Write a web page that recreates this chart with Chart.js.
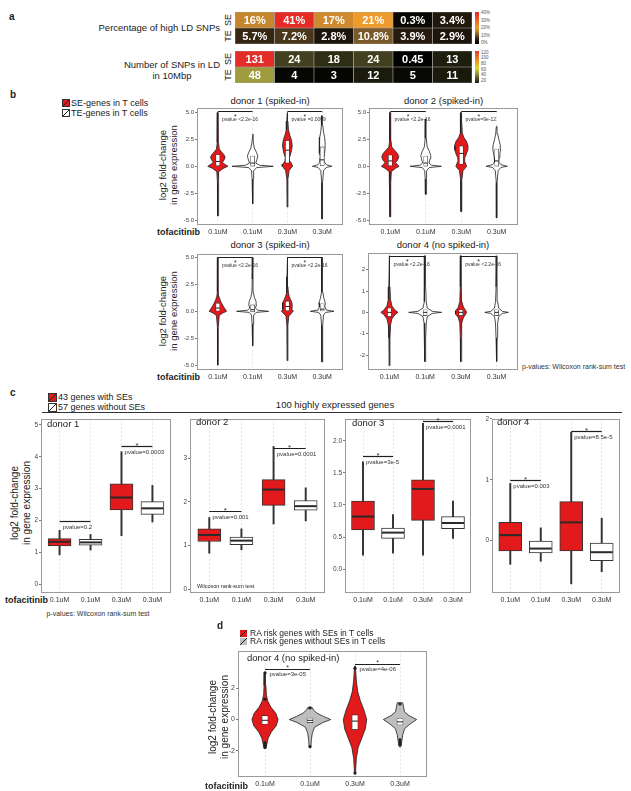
<!DOCTYPE html>
<html>
<head>
<meta charset="utf-8">
<title>Tofacitinib response of SE genes</title>
<script src="https://cdn.jsdelivr.net/npm/chart.js@4.4.1/dist/chart.umd.min.js"></script>
<style>
  html, body { margin: 0; padding: 0; background: #fff; }
  body { position: relative; width: 631px; height: 791px; overflow: hidden;
         font-family: 'Liberation Sans', Arial, sans-serif; color: #222; }
  .t { position: absolute; white-space: pre; line-height: 1.15; }
  canvas { position: absolute; }
</style>
</head>
<body>
<script>
const FONT = "'Liberation Sans', Arial, sans-serif";
const RED = '#e31a1c';
const GREY = '#bebebe';
const INK = '#1e1e1e';

// ---- panel a : heatmaps ----
const diseases = ['IBD', 'RA', 'T1D', 'MS', 'T2D', 'Cancer'];
const pctSE = [16, 41, 17, 21, 0.3, 3.4];
const pctTE = [5.7, 7.2, 2.8, 10.8, 3.9, 2.9];
const snpSE = [131, 24, 18, 24, 0.45, 13];
const snpTE = [48, 4, 3, 12, 5, 11];
const pctTicks = ['40%', '30%', '20%', '10%', '0%'];
const snpTicks = ['120', '100', '80', '60', '40', '20'];

// ---- shared x categories ----
const doses = ['0.1uM', '0.1uM', '0.3uM', '0.3uM'];

// ---- panel b : violins, [value, half width] from bottom to top ----
const bTicks = [-5, -2.5, 0, 2.5, 5];
const b4Ticks = [-2, -1, 0, 1, 2];

const violinD1 = [
  [[-4.6,.01],[-1.5,.012],[-0.5,.03],[-0.2,.15],[0,.29],[0.15,.22],[0.35,.13],[0.6,.18],[0.85,.21],[1.1,.17],[1.35,.1],[1.6,.04],[2.2,.02],[3.2,.015],[5,.01]],
  [[-3.5,.01],[-1.2,.015],[-0.4,.03],[-0.12,.12],[0,.59],[0.1,.2],[0.3,.09],[0.6,.12],[0.95,.15],[1.3,.11],[1.7,.05],[2.2,.02],[3,.01]],
  [[-3.8,.01],[-1.2,.015],[-0.4,.05],[-0.1,.12],[0,.15],[0.2,.13],[0.5,.07],[0.8,.06],[1.1,.09],[1.5,.12],[1.9,.14],[2.4,.12],[2.9,.07],[3.4,.03],[4.2,.015],[5,.01]],
  [[-4.9,.01],[-1.5,.012],[-0.4,.04],[-0.1,.12],[0,.28],[0.15,.12],[0.4,.06],[0.8,.05],[1.2,.07],[1.7,.085],[2.2,.085],[2.7,.07],[3.2,.04],[3.8,.02],[4.7,.01]]
];
const violinD2 = [
  [[-4.7,.01],[-1.5,.012],[-0.5,.03],[-0.2,.14],[0,.25],[0.15,.2],[0.35,.15],[0.6,.21],[0.9,.24],[1.2,.2],[1.5,.12],[1.8,.04],[2.4,.02],[3.5,.015],[5,.01]],
  [[-2.6,.01],[-1.2,.015],[-0.4,.03],[-0.12,.1],[0,.44],[0.1,.16],[0.3,.09],[0.7,.12],[1.0,.14],[1.4,.1],[1.8,.04],[2.6,.015],[4.4,.01]],
  [[-4.2,.01],[-1.3,.015],[-0.4,.05],[-0.1,.13],[0,.15],[0.2,.13],[0.5,.09],[0.8,.1],[1.1,.14],[1.5,.18],[1.9,.19],[2.3,.15],[2.7,.07],[3.1,.03],[4,.015],[5,.01]],
  [[-4.8,.01],[-1.5,.012],[-0.4,.04],[-0.1,.12],[0,.3],[0.15,.12],[0.4,.06],[0.8,.07],[1.2,.09],[1.6,.11],[2.0,.1],[2.5,.06],[3.0,.03],[3.7,.01]]
];
const violinD3 = [
  [[-5,.01],[-1.5,.012],[-0.4,.04],[-0.15,.14],[0,.25],[0.2,.21],[0.5,.15],[0.8,.1],[1.1,.06],[1.4,.03],[1.8,.015],[3,.012],[5,.01]],
  [[-3.2,.01],[-1.2,.015],[-0.35,.03],[-0.1,.1],[0,.46],[0.1,.15],[0.3,.08],[0.6,.11],[0.9,.1],[1.3,.05],[1.8,.02],[3,.012],[5,.01]],
  [[-4.6,.01],[-1.3,.015],[-0.45,.04],[-0.15,.12],[0,.17],[0.2,.13],[0.5,.14],[0.8,.13],[1.1,.09],[1.4,.05],[1.7,.03],[2.3,.015],[3.2,.012],[5,.01]],
  [[-4.7,.01],[-1.3,.015],[-0.35,.04],[-0.1,.1],[0,.34],[0.12,.12],[0.4,.08],[0.8,.09],[1.2,.05],[1.8,.02],[3,.012],[5,.01]]
];
const violinD4 = [
  [[-2.5,.01],[-1.2,.015],[-0.6,.03],[-0.3,.07],[-0.1,.16],[0,.24],[0.1,.16],[0.3,.07],[0.6,.03],[1.2,.015],[2.65,.01]],
  [[-2.3,.01],[-1.2,.015],[-0.5,.03],[-0.2,.06],[-0.05,.2],[0,.46],[0.05,.2],[0.2,.06],[0.5,.03],[1.2,.015],[2.65,.01]],
  [[-2.3,.01],[-1.2,.015],[-0.5,.03],[-0.25,.07],[-0.08,.14],[0,.16],[0.08,.14],[0.25,.07],[0.5,.03],[1.2,.015],[2.65,.01]],
  [[-2.3,.01],[-1.2,.015],[-0.5,.03],[-0.2,.06],[-0.05,.16],[0,.33],[0.05,.16],[0.2,.06],[0.5,.03],[1.2,.015],[2.65,.01]]
];
// inner boxes: q1, median, q3
const boxD1 = [[0.05,0.45,1.1],[0.02,0.3,0.95],[0.3,1.5,2.4],[0.05,0.6,1.8]];
const boxD2 = [[0.05,0.5,1.05],[0.02,0.3,0.95],[0.2,1.2,1.9],[0.02,0.5,1.6]];
const boxD3 = [[0,0.3,0.75],[-0.05,0.15,0.6],[0.05,0.45,0.95],[0,0.2,0.7]];
const boxD4 = [[-0.2,0,0.2],[-0.15,0,0.12],[-0.15,0,0.12],[-0.15,0,0.12]];
// brackets: from, to, height, label
const bracketsD1 = [[1,2,5.1,'pvalue <2.2e-16'],[3,4,5.1,'pvalue =0.0009']];
const bracketsD2 = [[1,2,5.1,'pvalue <2.2e-16'],[3,4,5.1,'pvalue=9e-12']];
const bracketsD3 = [[1,2,5.1,'pvalue <2.2e-16'],[3,4,5.1,'pvalue <2.2e-16']];
const bracketsD4 = [[1,2,2.65,'pvalue <2.2e-16'],[3,4,2.65,'pvalue <2.2e-16']];

// ---- panel c : boxplots, [min, q1, median, q3, max] ----
const statsC1 = [[0.92,1.2,1.33,1.43,1.69],[1.07,1.22,1.31,1.41,1.56],[1.52,2.33,2.72,3.15,4.16],[1.95,2.19,2.38,2.59,3.1]];
const statsC2 = [[0.82,1.09,1.24,1.38,1.64],[0.9,1.02,1.11,1.19,1.38],[1.49,1.92,2.28,2.51,3.27],[1.56,1.81,1.9,2.03,2.32]];
const statsC3 = [[0.22,0.61,0.82,1.06,1.67],[0.25,0.48,0.57,0.64,0.85],[0.22,0.76,1.25,1.39,2.27],[0.48,0.63,0.72,0.82,1.06]];
const statsC4 = [[-0.39,-0.17,0.09,0.3,0.94],[-0.34,-0.2,-0.13,0,0.21],[-0.71,-0.17,0.3,0.64,1.78],[-0.51,-0.33,-0.19,-0.04,0.37]];
const ticksC1 = [0, 1, 2, 3, 4, 5];
const ticksC2 = [0, 1, 2, 3];
const ticksC3 = [0, 0.5, 1, 1.5, 2];
const ticksC4 = [0, 1, 2];
const bracketsC1 = [[1,2,1.97,'pvalue=0.2',false],[3,4,4.35,'pvalue=0.0003']];
const bracketsC2 = [[1,2,1.79,'pvalue=0.001'],[3,4,3.24,'pvalue=0.0001']];
const bracketsC3 = [[1,2,1.77,'pvalue=3e-5'],[3,4,2.3,'pvalue=0.0001']];
const bracketsC4 = [[1,2,0.99,'pvalue=0.003'],[3,4,1.8,'pvalue=8.5e-5']];

// ---- panel d : RA risk genes ----
const violinRA = [
  [[-1.85,.02],[-1.6,.04],[-1.2,.07],[-0.8,.14],[-0.4,.25],[0,.29],[0.4,.24],[0.8,.13],[1.2,.06],[1.6,.03],[2.2,.02],[2.96,.01]],
  [[-1.75,.02],[-1.3,.03],[-0.9,.05],[-0.5,.1],[-0.2,.28],[0,.46],[0.2,.3],[0.4,.16],[0.6,.08],[0.77,.05]],
  [[-3.5,.01],[-2.5,.03],[-1.8,.07],[-1.2,.15],[-0.6,.23],[0,.26],[0.6,.2],[1.2,.12],[1.8,.06],[2.5,.03],[3.44,.01]],
  [[-1.75,.02],[-1.4,.04],[-1.0,.06],[-0.6,.1],[-0.3,.22],[0,.37],[0.25,.2],[0.5,.1],[0.8,.08],[1.08,.06]]
];
const boxRA = [[-0.3,-0.05,0.25],[-0.2,-0.05,0.1],[-0.65,-0.1,0.3],[-0.35,-0.15,0.05]];
const outliersRA = [[3.0,1.3,-1.5,-1.65,-1.8],[0.75,-1.75],[3.3,-3.45],[1.0,-1.3,-1.45,-1.6]];
const ticksRA = [-2, 0, 2];
const bracketsRA = [[1,2,3.23,'pvalue=3e-05'],[3,4,3.58,'pvalue=4e-06']];

// colour scales of the heatmaps
const pctStops = [[0,[8,6,4]],[5,[45,32,16]],[11,[125,92,44]],[16,[198,134,46]],[21,[236,155,44]],[41,[230,42,36]]];
const snpStops = [[0,[0,0,0]],[5,[8,8,4]],[13,[30,30,14]],[24,[66,64,30]],[48,[158,156,62]],[65,[222,214,48]],[90,[240,150,40]],[131,[228,44,40]]];

Chart.defaults.font.family = FONT;
Chart.defaults.color = '#333';

function colorAt(stops, v) {
  let i = 1;
  while (i < stops.length - 1 && v > stops[i][0]) i++;
  const [v0, c0] = stops[i - 1], [v1, c1] = stops[i];
  const t = Math.max(0, Math.min(1, (v - v0) / (v1 - v0)));
  return 'rgb(' + c0.map((c, k) => Math.round(c + (c1[k] - c) * t)).join(',') + ')';
}

function gradientCss(stops, lo, hi) {
  const parts = [];
  for (let k = 0; k <= 20; k++) {
    parts.push(colorAt(stops, lo + (hi - lo) * k / 20) + ' ' + (k * 5) + '%');
  }
  return 'linear-gradient(to top,' + parts.join(',') + ')';
}

// text helpers: y is the vertical centre
function txt(s, x, y, size, align, extra) {
  const d = document.createElement('div');
  d.className = 't';
  d.textContent = s;
  const tx = align === 'c' ? '-50%' : align === 'r' ? '-100%' : '0';
  d.style.left = x + 'px';
  d.style.top = y + 'px';
  d.style.fontSize = size + 'px';
  d.style.transform = 'translate(' + tx + ',-50%)';
  Object.assign(d.style, extra || {});
  document.body.appendChild(d);
  return d;
}
function rot(s, x, y, size) {
  const d = txt(s, x, y, size, 'c', {textAlign: 'center'});
  d.style.transform = 'translate(-50%,-50%) rotate(-90deg)';
  return d;
}
function icon(x, y, color, size, border) {
  const d = document.createElement('div');
  d.style.cssText = 'position:absolute;box-sizing:border-box;left:' + x + 'px;top:' + y + 'px;width:' + size + 'px;height:' + size + 'px;' +
    'background:linear-gradient(to bottom right,' + color + ' 43%,#222 43%,#222 57%,' + color + ' 57%);' +
    (border ? 'border:1px solid #333;' : '');
  document.body.appendChild(d);
}
function block(x, y, w, h, bg) {
  const d = document.createElement('div');
  d.style.cssText = 'position:absolute;left:' + x + 'px;top:' + y + 'px;width:' + w + 'px;height:' + h + 'px;background:' + bg;
  document.body.appendChild(d);
}

const PAD = 3;
function plotCanvas(box, axisW, axisH) {
  const c = document.createElement('canvas');
  const w = box.w + axisW + PAD, h = box.h + axisH + PAD;
  c.width = w; c.height = h;
  c.style.left = (box.x - axisW) + 'px';
  c.style.top = (box.y - PAD) + 'px';
  c.style.width = w + 'px'; c.style.height = h + 'px';
  document.body.appendChild(c);
  return c;
}

const frame = {
  id: 'frame',
  afterDatasetsDraw(chart) {
    const {ctx, chartArea: a} = chart;
    ctx.save();
    ctx.strokeStyle = '#9a9a9a';
    ctx.lineWidth = 1;
    ctx.strokeRect(Math.round(a.left) + 0.5, Math.round(a.top) + 0.5, Math.round(a.width) - 1, Math.round(a.height) - 1);
    ctx.restore();
  }
};

const violinFill = {
  id: 'violinFill',
  beforeDatasetDraw(chart, args) {
    const ds = chart.data.datasets[args.index];
    if (!ds.fillColor) return;
    const {ctx, chartArea: a} = chart;
    const pts = args.meta.data;
    ctx.save();
    ctx.beginPath();
    ctx.rect(a.left, a.top, a.width, a.height);
    ctx.clip();
    ctx.beginPath();
    pts.forEach((p, i) => i ? ctx.lineTo(p.x, p.y) : ctx.moveTo(p.x, p.y));
    ctx.closePath();
    ctx.fillStyle = ds.fillColor;
    ctx.fill();
    ctx.restore();
  }
};

function bracketPlugin(items, st) {
  return {
    id: 'brackets',
    afterDatasetsDraw(chart) {
      const {ctx, scales: {x, y}} = chart;
      ctx.save();
      ctx.strokeStyle = INK;
      ctx.fillStyle = '#333';
      ctx.lineWidth = st.lw;
      items.forEach(([from, to, val, label, star]) => {
        const x1 = x.getPixelForValue(from), x2 = x.getPixelForValue(to);
        const py = Math.round(y.getPixelForValue(val)) + 0.5;
        ctx.beginPath();
        ctx.moveTo(x1, py);
        ctx.lineTo(x2, py);
        ctx.stroke();
        ctx.textAlign = 'left';
        ctx.textBaseline = 'middle';
        ctx.font = st.size + 'px ' + FONT;
        ctx.fillText(label, x.getPixelForValue(from + st.dx), py + st.textDy);
        if (star !== false) {
          ctx.textAlign = 'center';
          ctx.font = st.starSize + 'px ' + FONT;
          ctx.fillText('*', (x1 + x2) / 2, py + st.starDy);
        }
      });
      ctx.restore();
    }
  };
}

function panelOptions(yMin, yMax, yTicks, digits, axisW, axisH, yFont) {
  return {
    responsive: false, animation: false, events: [],
    layout: {padding: {top: PAD, right: PAD, left: 0, bottom: 0}, autoPadding: false},
    plugins: {legend: {display: false}, tooltip: {enabled: false}},
    scales: {
      x: {
        type: 'linear', min: 0.4, max: 4.6, offset: false,
        afterBuildTicks: s => { s.ticks = doses.map((d, i) => ({value: i + 1})); },
        afterFit: s => { s.height = axisH; },
        ticks: {callback: v => doses[v - 1], autoSkip: false, maxRotation: 0, font: {size: 7}, color: '#333', padding: 3},
        grid: {color: '#dcdcdc', lineWidth: 0.7, drawTicks: false, offset: false},
        border: {display: false, dash: [2, 2]}
      },
      y: {
        type: 'linear', min: yMin, max: yMax,
        afterBuildTicks: s => { s.ticks = yTicks.map(v => ({value: v})); },
        afterFit: s => { s.width = axisW; },
        ticks: {callback: v => v.toFixed(digits), font: {size: yFont}, color: '#444', padding: 1},
        grid: {color: 'rgba(0,0,0,0)', tickColor: '#555', tickLength: 2, lineWidth: 0.8},
        border: {display: false}
      }
    }
  };
}

function outline(pos, prof) {
  const right = prof.map(([y, w]) => ({x: pos + w, y}));
  const left = prof.slice().reverse().map(([y, w]) => ({x: pos - w, y}));
  return right.concat(left, [right[0]]);
}

function violinPanel(box, yMin, yMax, yTicks, digits, profiles, boxes, fills, brackets, st) {
  const cv = plotCanvas(box, st.axisW, 12);
  const datasets = profiles.map((p, i) => ({
    type: 'scatter', showLine: true, data: outline(i + 1, p), fillColor: fills[i],
    borderColor: INK, borderWidth: 0.8, pointRadius: 0, tension: 0, order: 3
  }));
  datasets.push({
    type: 'bar', data: boxes.map((b, i) => ({x: i + 1, y: [b[0], b[2]]})),
    backgroundColor: '#fff', borderColor: INK, borderWidth: 0.6, borderSkipped: false,
    barThickness: st.innerW, grouped: false, order: 2
  });
  datasets.push({
    type: 'scatter', data: boxes.map((b, i) => ({x: i + 1, y: b[1]})),
    pointStyle: 'line', pointRadius: st.innerW / 2, pointBorderColor: INK, pointBorderWidth: 1, order: 1
  });
  if (st.outliers) {
    datasets.push({
      type: 'scatter', data: st.outliers.flatMap((arr, i) => arr.map(y => ({x: i + 1, y}))),
      pointRadius: 1.6, pointBackgroundColor: INK, pointBorderWidth: 0, order: 0
    });
  }
  new Chart(cv, {
    type: 'scatter',
    data: {datasets},
    options: panelOptions(yMin, yMax, yTicks, digits, st.axisW, 12, st.yFont),
    plugins: [violinFill, frame, bracketPlugin(brackets, st.br)]
  });
}

function boxPanel(box, yMin, yMax, yTicks, digits, stats, brackets) {
  const cv = plotCanvas(box, 14, 12);
  const fills = [RED, '#fff', RED, '#fff'];
  new Chart(cv, {
    type: 'scatter',
    data: {datasets: [
      {type: 'bar', data: stats.map((s, i) => ({x: i + 1, y: [s[0], s[4]]})), backgroundColor: '#333',
       barThickness: 1.3, grouped: false, order: 3},
      {type: 'bar', data: stats.map((s, i) => ({x: i + 1, y: [s[1], s[3]]})), backgroundColor: fills,
       borderColor: '#333', borderWidth: 1, borderSkipped: false, barThickness: 23, grouped: false, order: 2},
      {type: 'scatter', data: stats.map((s, i) => ({x: i + 1, y: s[2]})), pointStyle: 'line',
       pointRadius: 11, pointBorderColor: '#2a2a2a', pointBorderWidth: 2, order: 1}
    ]},
    options: panelOptions(yMin, yMax, yTicks, digits, 14, 12, 6.5),
    plugins: [frame, bracketPlugin(brackets, {lw: 1.2, size: 6, starSize: 8, dx: 0.1, textDy: 6, starDy: -1})]
  });
}

// ---- heatmaps ----
const cellText = {
  id: 'cellText',
  afterDatasetsDraw(chart) {
    const ctx = chart.ctx;
    ctx.save();
    ctx.fillStyle = '#fff';
    ctx.font = 'bold 11px ' + FONT;
    ctx.textAlign = 'center';
    ctx.textBaseline = 'middle';
    chart.data.datasets.forEach((ds, di) => {
      chart.getDatasetMeta(di).data.forEach((bar, i) => {
        ctx.fillText(ds.texts[i], bar.x, (bar.y + bar.base) / 2 + 0.5);
      });
    });
    ctx.restore();
  }
};

function heatmap(top, height, axisH, se, te, stops, unit) {
  const c = document.createElement('canvas');
  c.width = 237; c.height = height;
  c.style.left = '235px'; c.style.top = top + 'px';
  c.style.width = '237px'; c.style.height = height + 'px';
  document.body.appendChild(c);
  new Chart(c, {
    type: 'bar',
    data: {labels: diseases, datasets: [
      {data: se.map(() => [1, 2]), texts: se.map(v => v + unit), backgroundColor: se.map(v => colorAt(stops, v))},
      {data: te.map(() => [0, 1]), texts: te.map(v => v + unit), backgroundColor: te.map(v => colorAt(stops, v))}
    ]},
    options: {
      responsive: false, animation: false, events: [],
      layout: {padding: 0, autoPadding: false},
      plugins: {legend: {display: false}, tooltip: {enabled: false}},
      datasets: {bar: {grouped: false, barPercentage: 1, categoryPercentage: 1,
                       borderColor: '#a8a8a8', borderWidth: 0.6, borderSkipped: false}},
      scales: {
        x: {position: 'top', display: axisH > 0, grid: {display: false}, border: {display: false},
            ticks: {font: {size: 9.5}, color: '#333', padding: 1}, afterFit: s => { s.height = axisH; }},
        y: {display: false, min: 0, max: 2}
      }
    },
    plugins: [cellText]
  });
}

// ================= panel a =================
txt('a', 9, 17, 10, 'l', {fontWeight: 'bold'});
txt('Percentage of high LD SNPs', 220, 28, 9.5, 'r');
txt('Number of SNPs in LD\nin 10Mbp', 220, 71, 9.5, 'r', {textAlign: 'center'});
rot('SE', 228, 20, 9); rot('TE', 228, 36, 9);
rot('SE', 228, 59, 9); rot('TE', 228, 75, 9);
heatmap(0, 44, 12, pctSE, pctTE, pctStops, '%');
heatmap(51, 32, 0, snpSE, snpTE, snpStops, '');
block(475, 12, 4, 32, gradientCss(pctStops, -2, 42));
block(475, 51, 4, 32, gradientCss(snpStops, 13, 126));
pctTicks.forEach((s, i) => txt(s, 481, 13.3 + i * 7.5, 4.5, 'l', {color: '#555'}));
snpTicks.forEach((s, i) => txt(s, 481, 52.7 + i * 5.66, 4.5, 'l', {color: '#555'}));

// ================= panel b =================
txt('b', 10, 95, 10, 'l', {fontWeight: 'bold'});
icon(62, 99, RED, 8, true);  txt('SE-genes in T cells', 71, 102.5, 9);
icon(62, 109, '#fff', 8, true); txt('TE-genes in T cells', 71, 112.5, 9);
txt('donor 1 (spiked-in)', 270, 101, 9.5, 'c');
txt('donor 2 (spiked-in)', 443.5, 101, 9.5, 'c');
txt('donor 3 (spiked-in)', 270, 245, 9.5, 'c');
txt('donor 4 (no spiked-in)', 443, 245, 9.5, 'c');
rot('log2 fold-change\nin gene expression', 169, 165, 9.5);
rot('log2 fold-change\nin gene expression', 169, 311, 9.5);
txt('tofacitinib', 157, 232, 9, 'l', {fontWeight: 'bold'});
txt('tofacitinib', 157, 377, 9, 'l', {fontWeight: 'bold'});
txt('p-values: Wilcoxon rank-sum test', 522, 367, 7, 'l', {color: '#333'});

const bFills = [RED, '#fff', RED, '#fff'];
const bStyle = {axisW: 22, yFont: 6, innerW: 4,
  br: {lw: 1.2, size: 5, starSize: 7, dx: 0.12, textDy: 8, starDy: 6}};
violinPanel({x: 197, y: 106, w: 146, h: 119}, -5.46, 5.46, bTicks, 1, violinD1, boxD1, bFills, bracketsD1, bStyle);
violinPanel({x: 369, y: 106, w: 149, h: 119}, -5.46, 5.46, bTicks, 1, violinD2, boxD2, bFills, bracketsD2, bStyle);
violinPanel({x: 197, y: 252, w: 146, h: 118}, -5.46, 5.37, bTicks, 1, violinD3, boxD3, bFills, bracketsD3, bStyle);
violinPanel({x: 368, y: 251, w: 150, h: 119}, -2.7, 2.8, b4Ticks, 0, violinD4, boxD4, bFills, bracketsD4, bStyle);

// ================= panel c =================
txt('c', 10, 393, 10, 'l', {fontWeight: 'bold'});
icon(48, 393, RED, 9, true);  txt('43 genes with SEs', 58, 397, 9);
icon(48, 403, '#fff', 9, true); txt('57 genes without SEs', 58, 407, 9);
txt('100 highly expressed genes', 335, 405, 9.5, 'c');
block(42, 412, 580, 1.2, '#333');
rot('log2 fold-change\nin gene expression', 20, 503, 10);
txt('tofacitinib', 5, 600, 9, 'l', {fontWeight: 'bold'});
txt('p-values: Wilcoxon rank-sum test', 98, 614, 7, 'c', {color: '#333'});

boxPanel({x: 41, y: 417, w: 130, h: 176}, -0.28, 5.19, ticksC1, 0, statsC1, bracketsC1);
boxPanel({x: 190, y: 417, w: 135, h: 176}, -0.09, 3.9, ticksC2, 0, statsC2, bracketsC2);
boxPanel({x: 345, y: 417, w: 126, h: 176}, -0.37, 2.34, ticksC3, 1, statsC3, bracketsC3);
boxPanel({x: 492, y: 417, w: 128, h: 176}, -0.86, 2.0, ticksC4, 0, statsC4, bracketsC4);
txt('donor 1', 47, 424, 9.5);
txt('donor 2', 196, 422, 9.5);
txt('donor 3', 352, 423, 9.5);
txt('donor 4', 497, 422, 9.5);
txt('Wilcoxon rank-sum test', 197, 586, 5.5);

// ================= panel d =================
txt('d', 217, 626, 10, 'l', {fontWeight: 'bold'});
icon(240, 630, RED, 7, false);  txt('RA risk genes with SEs in T cells', 250, 633.5, 8.5);
icon(240, 638, GREY, 7, false); txt('RA risk genes without SEs in T cells', 250, 642, 8.5);
violinPanel({x: 238, y: 649, w: 189, h: 128}, -3.7, 4.4, ticksRA, 0, violinRA, boxRA, [RED, GREY, RED, GREY], bracketsRA,
  {axisW: 14, yFont: 7, innerW: 6, outliers: outliersRA,
   br: {lw: 1, size: 6, starSize: 7, dx: 0.1, textDy: 5, starDy: -1}});
txt('donor 4 (no spiked-in)', 247, 658, 9.5);
rot('log2 fold-change\nin gene expression', 218, 717, 10);
txt('tofacitinib', 205, 786, 9, 'l', {fontWeight: 'bold'});
</script>
</body>
</html>
